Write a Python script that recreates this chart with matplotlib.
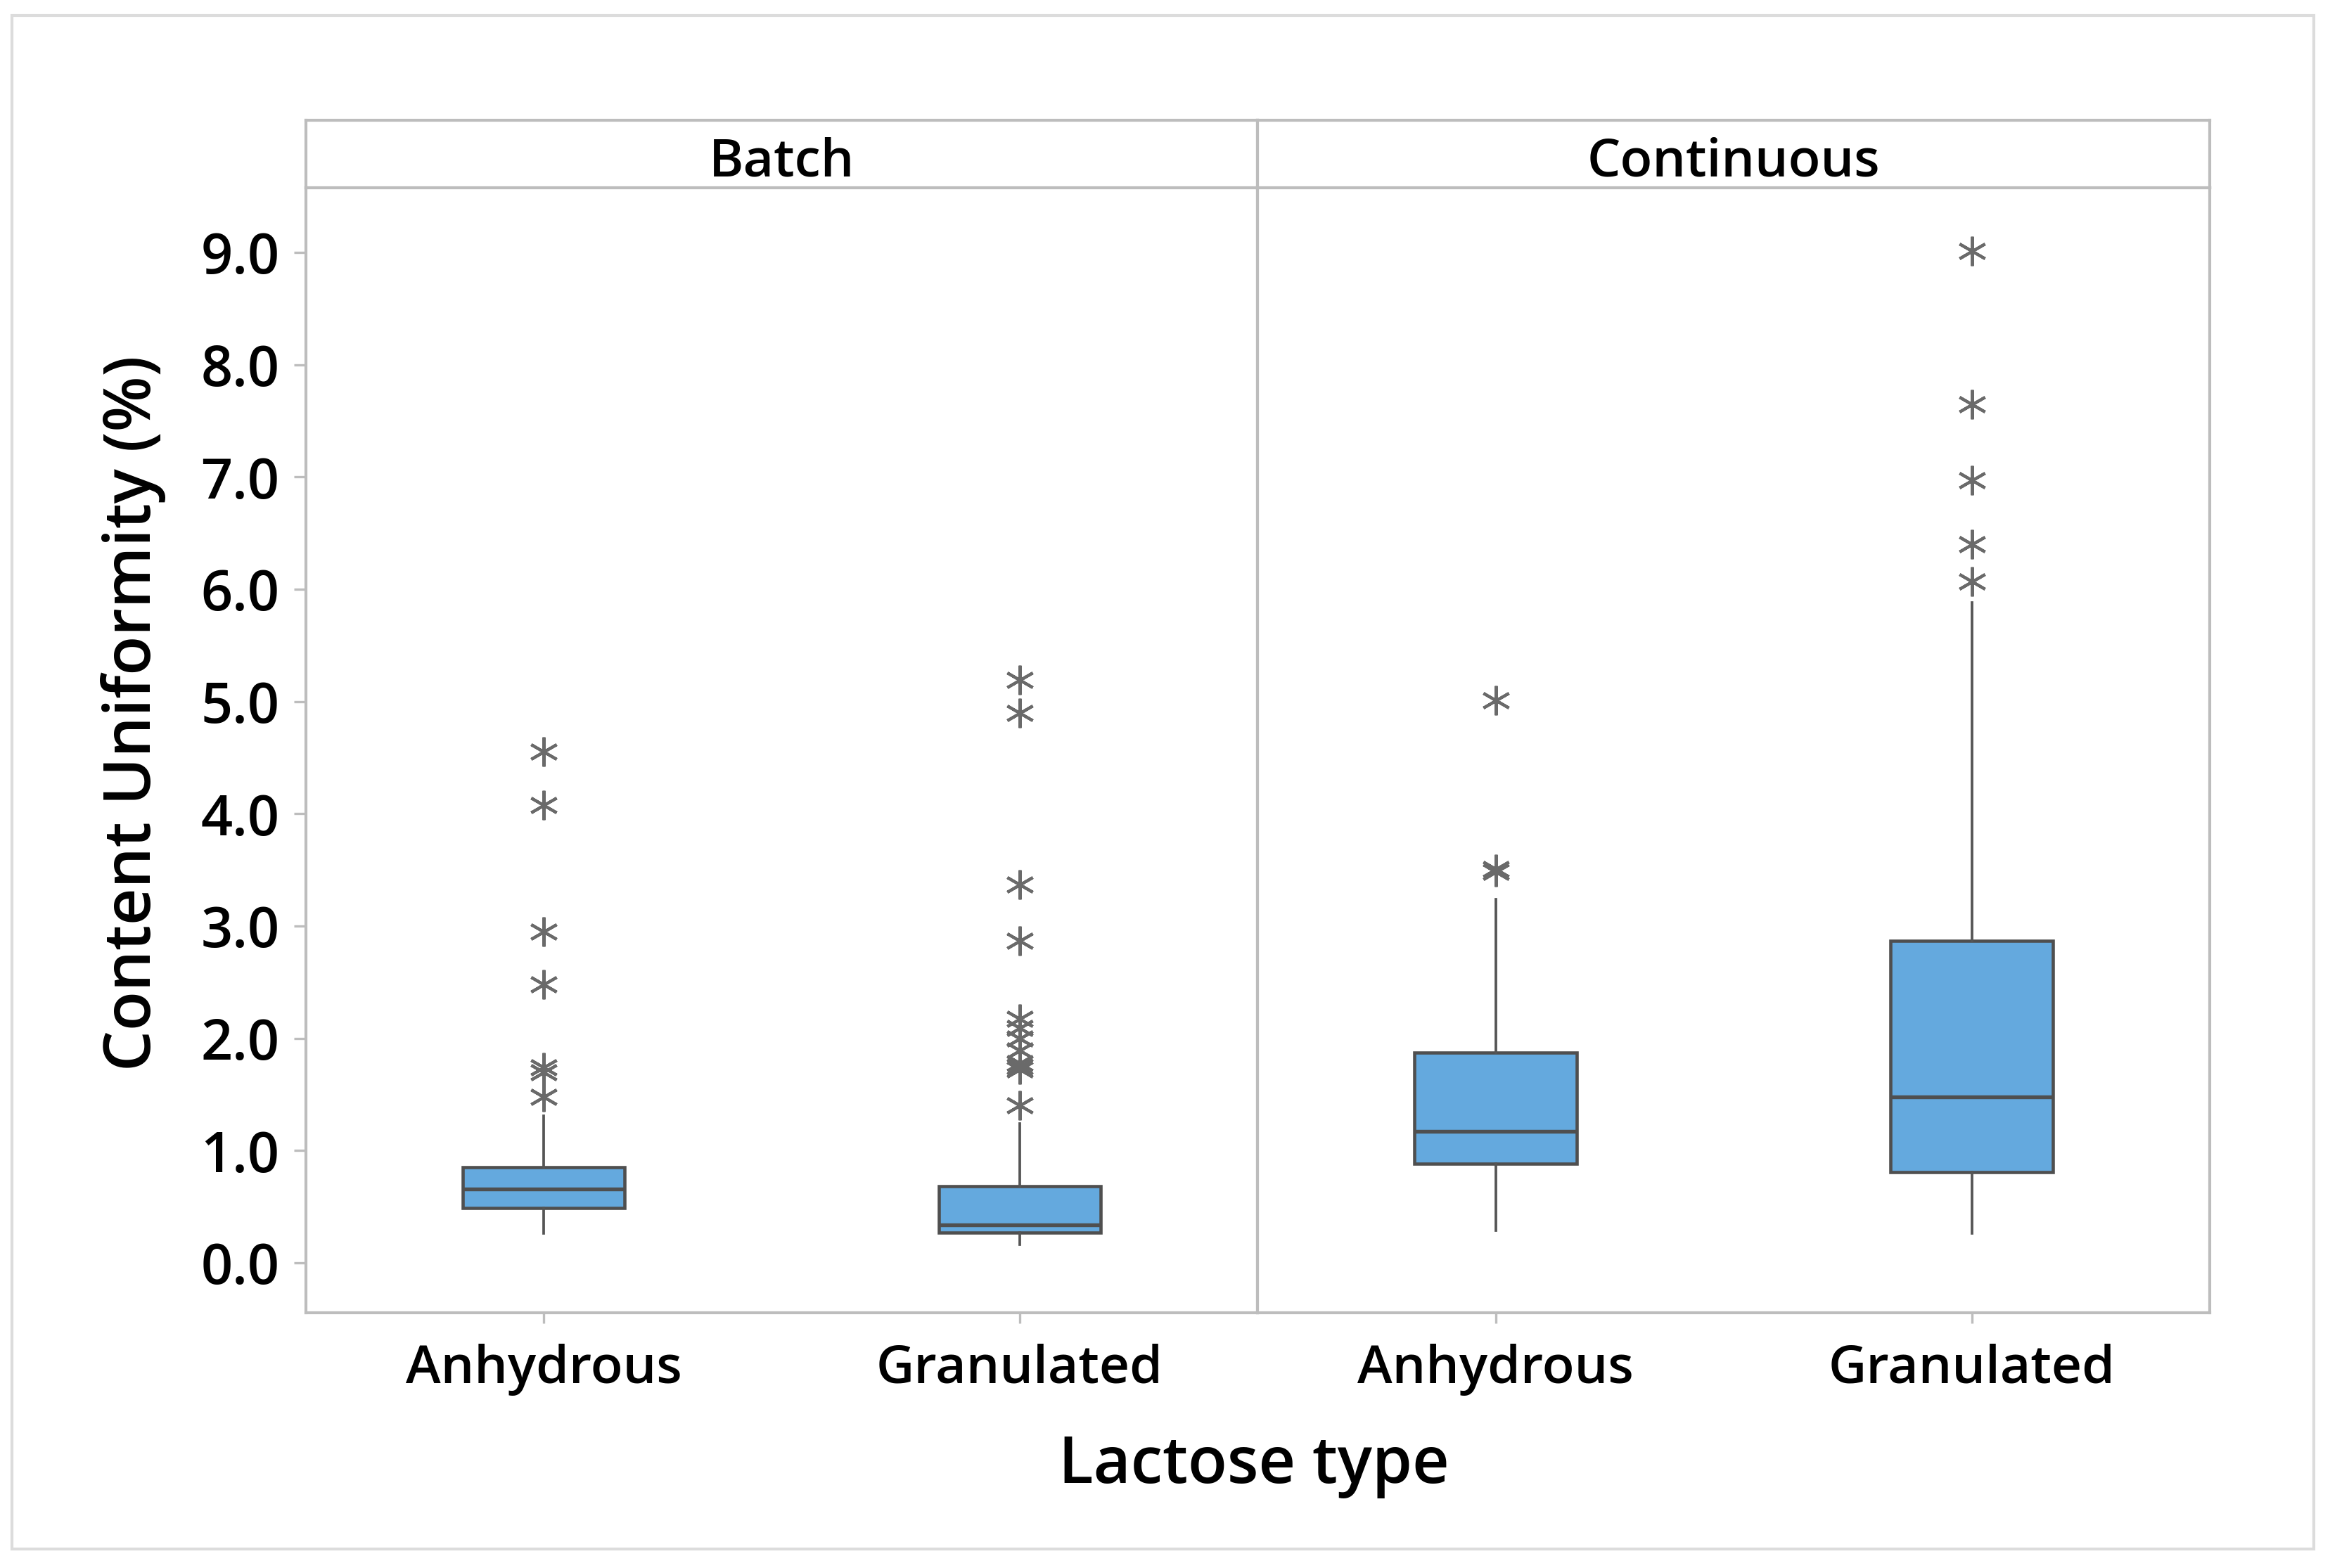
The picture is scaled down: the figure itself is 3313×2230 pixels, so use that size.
import matplotlib
matplotlib.use("Agg")
import matplotlib.pyplot as plt
from matplotlib.patches import Rectangle

# Content uniformity (%)
panels = ["Batch", "Continuous"]
lactose_types = ["Anhydrous", "Granulated"]

# order: Batch-Anhydrous, Batch-Granulated, Continuous-Anhydrous, Continuous-Granulated
q1 = [0.49, 0.27, 0.88, 0.81]
median = [0.66, 0.34, 1.17, 1.48]
q3 = [0.85, 0.68, 1.87, 2.87]
whisker_low = [0.26, 0.16, 0.29, 0.26]
whisker_high = [1.31, 1.24, 3.24, 5.88]

outliers_batch_anhydrous = [1.48, 1.70, 1.74, 2.48, 2.95, 4.08, 4.55]
outliers_batch_granulated = [1.40, 1.72, 1.75, 1.78, 1.89, 2.00, 2.09, 2.17, 2.87, 3.37, 4.90, 5.19]
outliers_cont_anhydrous = [3.48, 3.51, 5.01]
outliers_cont_granulated = [6.07, 6.40, 6.97, 7.65, 9.01]
outliers = [
    outliers_batch_anhydrous,
    outliers_batch_granulated,
    outliers_cont_anhydrous,
    outliers_cont_granulated,
]

y_ticks = [0.0, 1.0, 2.0, 3.0, 4.0, 5.0, 6.0, 7.0, 8.0, 9.0]

FONT = ["Open Sans", "Noto Sans", "DejaVu Sans"]
plt.rcParams["font.family"] = FONT

BOX_COLOR = "#64A9DE"
EDGE_COLOR = "#4F4F4F"
FRAME_COLOR = "#BDBDBD"
FLIER_COLOR = "#6A6A6A"

W, H = 3313, 2230
fig = plt.figure(figsize=(W / 300, H / 300), dpi=300)


def fx(px):
    return px / W


def fy(py):
    return 1 - py / H


left, divider, right = 435, 1788, 3142
strip_top, plot_top, plot_bottom = 171, 267, 1867

# outer light border
fig.patches.append(
    Rectangle((fx(17), fy(2203)), fx(3290 - 17), (2203 - 22) / H,
              transform=fig.transFigure, fill=False, edgecolor="#DCDCDC", linewidth=1.0)
)

edges = [(left, divider), (divider, right)]
for p, (x0, x1) in enumerate(edges):
    ax = fig.add_axes([fx(x0), fy(plot_bottom), fx(x1 - x0), (plot_bottom - plot_top) / H])
    stats = []
    for j in range(2):
        k = p * 2 + j
        stats.append(dict(med=median[k], q1=q1[k], q3=q3[k],
                          whislo=whisker_low[k], whishi=whisker_high[k],
                          fliers=outliers[k]))
    ax.bxp(
        stats,
        positions=[0, 1],
        widths=0.34,
        patch_artist=True,
        showcaps=False,
        boxprops=dict(facecolor=BOX_COLOR, edgecolor=EDGE_COLOR, linewidth=1.1),
        medianprops=dict(color=EDGE_COLOR, linewidth=1.3),
        whiskerprops=dict(color="#555555", linewidth=0.9),
        flierprops=dict(marker=(6, 2, 0), markersize=10, markeredgewidth=1.0,
                        markeredgecolor=FLIER_COLOR, markerfacecolor=FLIER_COLOR,
                        linestyle="none"),
    )
    ax.set_xlim(-0.5, 1.5)
    ax.set_ylim(-0.445, 9.576)
    ax.set_xticks([0, 1])
    ax.set_xticklabels(lactose_types, fontsize=18, fontweight="semibold")
    ax.set_yticks(y_ticks)
    if p == 0:
        ax.set_yticklabels([f"{v:.1f}" for v in y_ticks], fontsize=19, fontweight="semibold")
        ax.tick_params(axis="y", length=4, width=0.8, color=FRAME_COLOR, pad=5)
    else:
        ax.tick_params(axis="y", left=False, labelleft=False)
    ax.tick_params(axis="x", length=3.5, width=0.8, color=FRAME_COLOR, pad=7)
    for s in ax.spines.values():
        s.set_color(FRAME_COLOR)
        s.set_linewidth(1.0)

    # facet strip
    sax = fig.add_axes([fx(x0), fy(plot_top), fx(x1 - x0), (plot_top - strip_top) / H])
    sax.set_xticks([])
    sax.set_yticks([])
    for s in sax.spines.values():
        s.set_color(FRAME_COLOR)
        s.set_linewidth(1.0)
    sax.text(0.5, 0.37, panels[p], transform=sax.transAxes, ha="center", va="center",
             fontsize=18, fontweight="semibold")

fig.text(fx(190), fy(1014), "Content Uniformity (%)", rotation=90, ha="center", va="center",
         fontsize=22, fontweight="semibold")
fig.text(fx(1783), fy(2085), "Lactose type", ha="center", va="center",
         fontsize=22, fontweight="semibold")

fig.savefig("out.png", dpi=300)
